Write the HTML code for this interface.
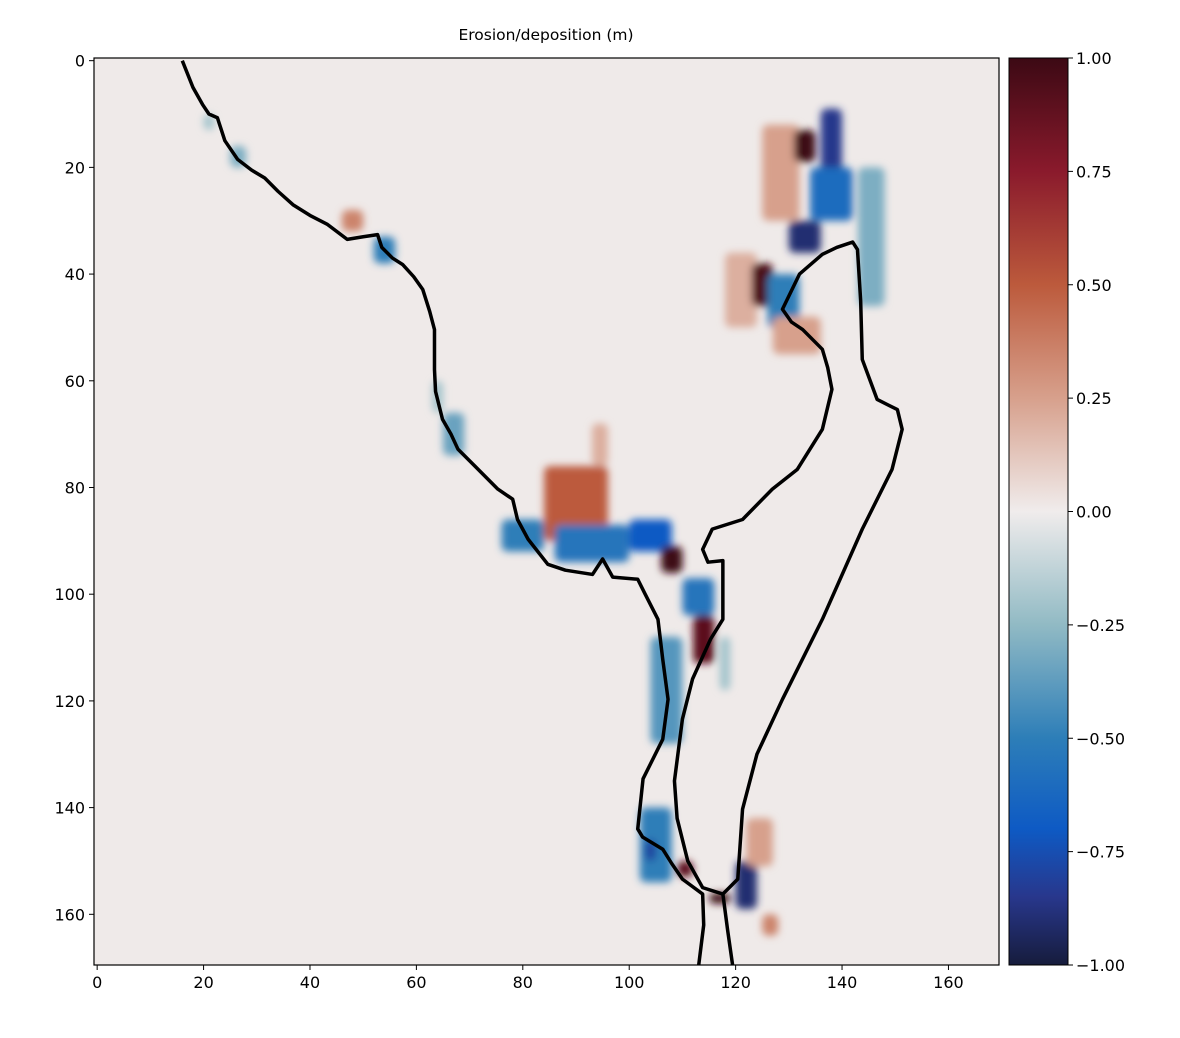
<!DOCTYPE html>
<html><head><meta charset="utf-8"><style>
body{margin:0;background:#fff;font-family:"Liberation Sans","DejaVu Sans",sans-serif}
svg text{font-family:"DejaVu Sans","Liberation Sans",sans-serif}
</style></head><body>
<svg id="chart" width="1180" height="1033" viewBox="0 0 1180 1033">
<defs>
<filter id="blur" x="-50%" y="-50%" width="200%" height="200%"><feGaussianBlur stdDeviation="4"/></filter>
<linearGradient id="cbgrad" x1="0" y1="1" x2="0" y2="0"></linearGradient>
<clipPath id="plotclip"><rect x="94" y="58" width="905" height="907"/></clipPath>
</defs>
<text x="546" y="40" text-anchor="middle" font-size="15.5">Erosion/deposition (m)</text>
<rect x="94" y="58" width="905" height="907" fill="#efeae9"/>
<g id="cells" clip-path="url(#plotclip)" filter="url(#blur)"></g>
<g id="coast" clip-path="url(#plotclip)"></g>
<rect x="94" y="58" width="905" height="907" fill="none" stroke="#000" stroke-width="1.2"/>
<g id="xaxis"></g><g id="yaxis"></g>
<rect x="1009" y="58" width="59" height="907" fill="url(#cbgrad)" stroke="#000" stroke-width="1"/>
<g id="cbaxis"></g>
</svg>
<script>
const xTicks=[0,20,40,60,80,100,120,140,160];
const yTicks=[0,20,40,60,80,100,120,140,160];
const cbTicks=[1,0.75,0.5,0.25,0,-0.25,-0.5,-0.75,-1];
const cbLabels=["1.00","0.75","0.50","0.25","0.00","\u22120.25","\u22120.50","\u22120.75","\u22121.00"];
// blobs: x, y, width, height, value (data units)
const blobX=[25,52,46,63,65,84,93,76,86,100,106,110,112,104,102,103,109,115,120,122,125,125,118,131,136,134,130,123,126,143,127,117,20];
const blobY=[16,33,28,60,66,76,68,86,87,86,91,97,104,108,140,146,150,156,150,142,160,12,36,13,9,20,30,38,40,20,48,108,10];
const blobW=[3,4,4,2,4,12,3,8,14,8,4,6,4,6,6,2,3,4,4,5,3,7,6,4,4,8,6,4,6,5,9,2,2];
const blobH=[4,5,4,6,8,14,8,6,7,6,5,7,9,20,14,4,3,2,9,9,4,18,14,6,13,10,6,8,10,26,7,10,3];
const blobV=[-0.3,-0.5,0.35,-0.2,-0.35,0.5,0.2,-0.5,-0.55,-0.7,1,-0.55,0.9,-0.4,-0.5,-0.8,0.9,1,-0.9,0.25,0.35,0.25,0.2,1,-0.85,-0.6,-0.9,0.95,-0.5,-0.3,0.25,-0.2,-0.2];
// coastlines (data coords)
const mainX=[16,18,19.8,21,22.6,24,26.4,29,31.5,34,36.8,40,43.3,47,50,52.7,53.5,55.5,57.4,59.5,61.2,62.5,63.4,63.4,63.6,64.9,66.5,67.8,71,75.3,78.1,79,81,84.7,88,93.1,95,96.9,101.6,103,105.4,106.3,107.3,106.3,102.6,101.6,102.5,106.3,108,110,113.8,114,113];
const mainY=[0,5,8.2,10,10.7,15,18.5,20.5,22,24.5,27,29,30.7,33.5,33,32.6,35,37,38.2,40.5,42.9,47,50.4,57.9,62,67.2,70,72.8,76,80.3,82.2,86,89.7,94.4,95.5,96.3,93.4,96.8,97.2,100,104.7,112.2,119.7,127.2,134.6,144,145.5,147.8,150.5,153.4,156.2,162,170];
const islX=[113.8,114.8,117.6,117.6,115.3,111.9,110,108.5,109,111,113.8,117.6,120.4,121.3,124,128.8,136.3,143.8,149.4,151.3,150.4,146.6,143.8,143.5,142.9,142,139,136.3,132,128.8,130.5,132.6,136.3,137.3,138.1,136.3,131.6,126.9,121.3,115.6,113.8];
const islY=[91.6,94,93.7,104.7,108.4,115.9,123.4,135,142,150,155,156.2,153.4,140.3,130,119.7,104.7,87.8,76.6,69.1,65.4,63.5,56,45,35.4,34,35,36.3,40,46.6,49,50.4,54.1,57.5,61.6,69.1,76.6,80.3,86,87.8,91.6];
const tailX=[117.6,118.5,119.5];
const tailY=[156.2,163,170];
const NS="http://www.w3.org/2000/svg";
const X0=94.5,X1=999,Y0=58,Y1=965;
const sx=v=>X0+(v+0.5)*(X1-X0)/170, sy=v=>Y0+(v+0.5)*(Y1-Y0)/170;
const cbY=v=>Y0+(1-v)/2*(Y1-Y0);
const stops=[[-1,[22,28,60]],[-0.85,[40,55,140]],[-0.7,[14,90,196]],[-0.5,[45,126,184]],[-0.25,[145,186,196]],[0,[240,236,236]],[0.25,[215,160,140]],[0.5,[188,90,60]],[0.75,[138,26,44]],[1,[60,9,20]]];
function cmap(v){for(let i=0;i<stops.length-1;i++){const a=stops[i],b=stops[i+1];if(v<=b[0]){const t=(v-a[0])/(b[0]-a[0]);return 'rgb('+a[1].map((c,k)=>Math.round(c+(b[1][k]-c)*t)).join(',')+')';}}return 'rgb(60,9,20)';}
function el(t,a,p){const e=document.createElementNS(NS,t);for(const k in a)e.setAttribute(k,a[k]);p.appendChild(e);return e;}
const grad=document.getElementById('cbgrad');
stops.forEach(s=>el('stop',{offset:((s[0]+1)/2*100)+'%','stop-color':cmap(s[0])},grad));
const cells=document.getElementById('cells');
blobV.forEach((v,i)=>{const r=el('rect',{x:sx(blobX[i]),y:sy(blobY[i]),width:blobW[i]*(X1-X0)/170,height:blobH[i]*(Y1-Y0)/170,fill:cmap(v),rx:6},cells);

});
const coast=document.getElementById('coast');
function line(xs,ys,name,closed){const p=el(closed?'polygon':'polyline',{points:xs.map((x,i)=>sx(x)+','+sy(ys[i])).join(' '),fill:'none',stroke:'#000','stroke-width':3.5,'stroke-linejoin':'round'},coast);

}
line(mainX,mainY,'mainland-coastline',false);
line(islX,islY,'island-coastline',true);
line(tailX,tailY,'south-coastline',false);
const xa=document.getElementById('xaxis'),ya=document.getElementById('yaxis'),ca=document.getElementById('cbaxis');
xTicks.forEach(v=>{el('line',{x1:sx(v),x2:sx(v),y1:965,y2:970,stroke:'#000'},xa);const t=el('text',{x:sx(v),y:988,'text-anchor':'middle','font-size':16},xa);t.textContent=v;

});
yTicks.forEach(v=>{el('line',{x1:89,x2:94,y1:sy(v),y2:sy(v),stroke:'#000'},ya);const t=el('text',{x:85,y:sy(v)+6,'text-anchor':'end','font-size':16},ya);t.textContent=v;

});
cbTicks.forEach((v,i)=>{el('line',{x1:1068,x2:1073,y1:cbY(v),y2:cbY(v),stroke:'#000'},ca);const t=el('text',{x:1076,y:cbY(v)+6,'font-size':16},ca);t.textContent=cbLabels[i];

});
</script>
</body></html>
